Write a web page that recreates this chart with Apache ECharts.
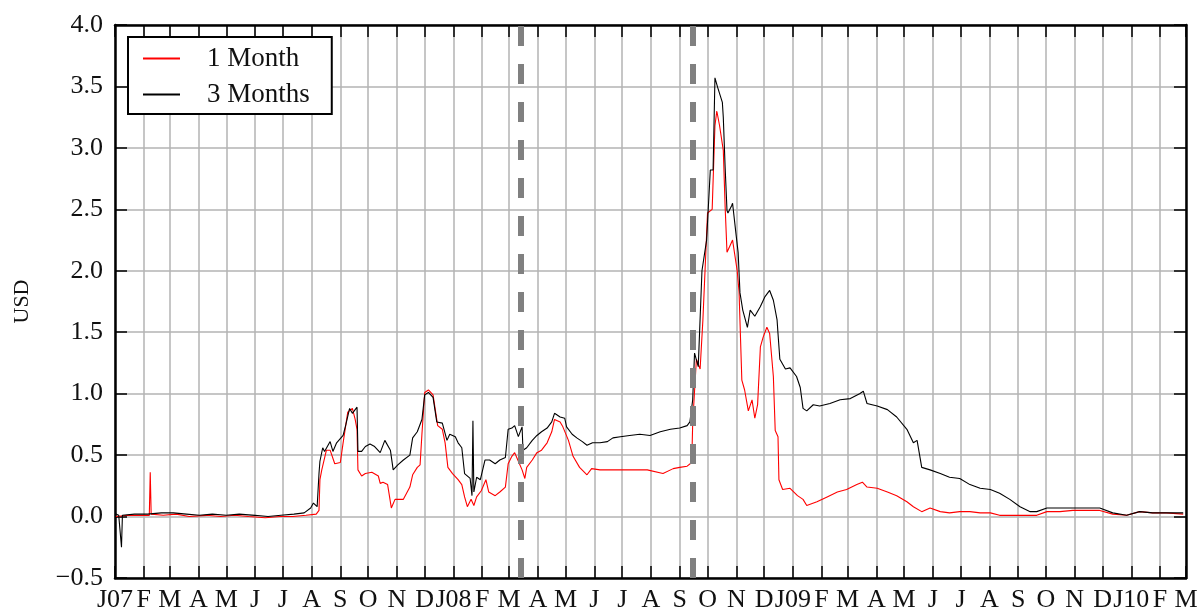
<!DOCTYPE html>
<html>
<head>
<meta charset="utf-8">
<script src="https://cdn.jsdelivr.net/npm/echarts@6/dist/echarts.min.js"></script>
<style>
html,body{margin:0;padding:0;background:#fff;}
#chart{width:1202px;height:614px;}
</style>
</head>
<body>
<div id="chart"></div>
<script>
// ---- data ----
const monthLetters = ['J','F','M','A','M','J','J','A','S','O','N','D'];
const yTicks = [-0.5, 0.0, 0.5, 1.0, 1.5, 2.0, 2.5, 3.0, 3.5, 4.0];
const eventDates = ['2008-03-14', '2008-09-15'];
const seriesNames = ['1 Month', '3 Months'];

const oneMonth = [
 ['2007-01-02',0.00],['2007-01-15',0.01],['2007-02-07',0.01],['2007-02-08',0.36],['2007-02-09',0.02],
 ['2007-02-22',0.01],['2007-03-08',0.02],['2007-03-22',0.00],['2007-04-10',0.01],['2007-04-25',0.00],
 ['2007-05-10',0.01],['2007-05-25',0.00],['2007-06-12',-0.01],['2007-06-28',0.00],['2007-07-12',0.00],
 ['2007-07-26',0.01],['2007-08-06',0.02],['2007-08-09',0.05],['2007-08-10',0.30],['2007-08-12',0.38],
 ['2007-08-17',0.54],['2007-08-21',0.54],['2007-08-26',0.43],['2007-09-01',0.44],['2007-09-04',0.60],
 ['2007-09-09',0.85],['2007-09-14',0.88],['2007-09-17',0.79],['2007-09-19',0.71],['2007-09-20',0.38],
 ['2007-09-24',0.33],['2007-09-28',0.35],['2007-10-05',0.36],['2007-10-12',0.33],['2007-10-14',0.27],
 ['2007-10-17',0.28],['2007-10-22',0.26],['2007-10-26',0.07],['2007-10-30',0.14],['2007-11-08',0.14],
 ['2007-11-15',0.24],['2007-11-18',0.34],['2007-11-23',0.40],['2007-11-26',0.42],['2007-11-28',0.67],
 ['2007-12-01',1.01],['2007-12-05',1.03],['2007-12-10',0.99],['2007-12-15',0.74],['2007-12-20',0.71],
 ['2007-12-23',0.60],['2007-12-26',0.40],['2007-12-31',0.35],['2008-01-06',0.30],['2008-01-10',0.26],
 ['2008-01-13',0.16],['2008-01-16',0.08],['2008-01-20',0.14],['2008-01-23',0.09],['2008-01-26',0.16],
 ['2008-01-31',0.21],['2008-02-05',0.30],['2008-02-08',0.20],['2008-02-15',0.17],['2008-02-20',0.20],
 ['2008-02-26',0.24],['2008-02-29',0.43],['2008-03-04',0.49],['2008-03-07',0.52],['2008-03-11',0.45],
 ['2008-03-15',0.38],['2008-03-18',0.31],['2008-03-20',0.40],['2008-03-26',0.46],['2008-03-31',0.52],
 ['2008-04-05',0.54],['2008-04-11',0.60],['2008-04-16',0.69],['2008-04-19',0.79],['2008-04-25',0.77],
 ['2008-04-28',0.73],['2008-05-04',0.62],['2008-05-09',0.49],['2008-05-16',0.40],['2008-05-24',0.34],
 ['2008-05-29',0.39],['2008-06-07',0.38],['2008-06-21',0.38],['2008-07-09',0.38],['2008-07-28',0.38],
 ['2008-08-14',0.35],['2008-08-25',0.39],['2008-09-01',0.40],['2008-09-09',0.41],['2008-09-14',0.44],
 ['2008-09-15',0.76],['2008-09-19',1.28],['2008-09-23',1.20],['2008-09-26',1.60],['2008-10-01',2.47],
 ['2008-10-06',2.50],['2008-10-09',3.18],['2008-10-11',3.30],['2008-10-14',3.18],['2008-10-18',2.98],
 ['2008-10-20',2.52],['2008-10-22',2.15],['2008-10-25',2.20],['2008-10-28',2.25],['2008-11-02',2.00],
 ['2008-11-04',1.83],['2008-11-07',1.11],['2008-11-10',1.03],['2008-11-14',0.86],['2008-11-18',0.95],
 ['2008-11-21',0.80],['2008-11-24',0.91],['2008-11-27',1.38],['2008-11-30',1.46],['2008-12-04',1.54],
 ['2008-12-07',1.49],['2008-12-11',1.14],['2008-12-13',0.70],['2008-12-16',0.65],['2008-12-17',0.30],
 ['2008-12-21',0.22],['2008-12-29',0.23],['2009-01-06',0.17],['2009-01-12',0.14],['2009-01-16',0.09],
 ['2009-01-27',0.12],['2009-02-07',0.16],['2009-02-18',0.20],['2009-02-28',0.22],['2009-03-11',0.26],
 ['2009-03-17',0.28],['2009-03-22',0.24],['2009-04-02',0.23],['2009-04-13',0.20],['2009-04-23',0.17],
 ['2009-05-04',0.12],['2009-05-11',0.08],['2009-05-20',0.04],['2009-05-29',0.07],['2009-06-09',0.04],
 ['2009-06-19',0.03],['2009-06-30',0.04],['2009-07-11',0.04],['2009-07-22',0.03],['2009-08-02',0.03],
 ['2009-08-12',0.01],['2009-08-23',0.01],['2009-09-03',0.01],['2009-09-14',0.01],['2009-09-21',0.01],
 ['2009-10-02',0.04],['2009-10-16',0.04],['2009-10-30',0.05],['2009-11-14',0.05],['2009-11-28',0.05],
 ['2009-12-12',0.02],['2009-12-27',0.01],['2010-01-10',0.04],['2010-01-24',0.03],['2010-02-08',0.03],
 ['2010-02-26',0.02]
];

const threeMonths = [
 ['2007-01-02',0.02],['2007-01-05',0.01],['2007-01-08',-0.25],['2007-01-09',0.01],['2007-01-22',0.02],
 ['2007-02-05',0.02],['2007-02-20',0.03],['2007-03-05',0.03],['2007-03-19',0.02],['2007-04-02',0.01],
 ['2007-04-16',0.02],['2007-05-01',0.01],['2007-05-15',0.02],['2007-06-01',0.01],['2007-06-15',0.00],
 ['2007-06-29',0.01],['2007-07-13',0.02],['2007-07-24',0.03],['2007-07-31',0.07],['2007-08-03',0.11],
 ['2007-08-07',0.08],['2007-08-09',0.35],['2007-08-10',0.45],['2007-08-13',0.56],['2007-08-15',0.53],
 ['2007-08-21',0.61],['2007-08-24',0.53],['2007-08-28',0.60],['2007-09-04',0.66],['2007-09-07',0.75],
 ['2007-09-11',0.88],['2007-09-14',0.84],['2007-09-19',0.89],['2007-09-20',0.53],['2007-09-24',0.53],
 ['2007-09-28',0.57],['2007-10-03',0.59],['2007-10-08',0.57],['2007-10-14',0.52],['2007-10-19',0.62],
 ['2007-10-25',0.54],['2007-10-28',0.38],['2007-11-02',0.42],['2007-11-08',0.46],['2007-11-15',0.50],
 ['2007-11-18',0.64],['2007-11-23',0.69],['2007-11-28',0.79],['2007-12-01',0.99],['2007-12-05',1.01],
 ['2007-12-10',0.97],['2007-12-14',0.77],['2007-12-20',0.76],['2007-12-25',0.62],['2007-12-28',0.67],
 ['2008-01-03',0.65],['2008-01-06',0.60],['2008-01-10',0.56],['2008-01-13',0.35],['2008-01-19',0.31],
 ['2008-01-21',0.17],['2008-01-22',0.78],['2008-01-23',0.20],['2008-01-26',0.32],['2008-01-30',0.30],
 ['2008-02-04',0.46],['2008-02-09',0.46],['2008-02-15',0.43],['2008-02-20',0.46],['2008-02-26',0.48],
 ['2008-02-29',0.71],['2008-03-04',0.72],['2008-03-07',0.74],['2008-03-11',0.65],['2008-03-15',0.73],
 ['2008-03-16',0.54],['2008-03-20',0.56],['2008-03-26',0.62],['2008-03-31',0.66],['2008-04-05',0.69],
 ['2008-04-11',0.72],['2008-04-16',0.77],['2008-04-19',0.84],['2008-04-25',0.81],['2008-04-30',0.80],
 ['2008-05-02',0.73],['2008-05-08',0.67],['2008-05-13',0.64],['2008-05-19',0.61],['2008-05-24',0.58],
 ['2008-05-30',0.60],['2008-06-07',0.60],['2008-06-15',0.61],['2008-06-21',0.64],['2008-06-29',0.65],
 ['2008-07-09',0.66],['2008-07-20',0.67],['2008-07-31',0.66],['2008-08-11',0.69],['2008-08-22',0.71],
 ['2008-09-01',0.72],['2008-09-09',0.74],['2008-09-12',0.77],['2008-09-15',0.95],['2008-09-17',1.33],
 ['2008-09-21',1.22],['2008-09-25',2.00],['2008-09-30',2.25],['2008-10-04',2.82],['2008-10-07',2.82],
 ['2008-10-09',3.57],['2008-10-12',3.49],['2008-10-17',3.37],['2008-10-18',3.25],['2008-10-20',2.84],
 ['2008-10-22',2.49],['2008-10-23',2.47],['2008-10-27',2.53],['2008-10-28',2.55],['2008-11-01',2.28],
 ['2008-11-03',2.15],['2008-11-05',1.82],['2008-11-08',1.68],['2008-11-13',1.54],['2008-11-16',1.68],
 ['2008-11-21',1.63],['2008-11-27',1.71],['2008-12-02',1.79],['2008-12-07',1.84],['2008-12-11',1.76],
 ['2008-12-15',1.60],['2008-12-16',1.49],['2008-12-18',1.28],['2008-12-24',1.20],['2008-12-29',1.21],
 ['2009-01-05',1.14],['2009-01-09',1.05],['2009-01-12',0.88],['2009-01-16',0.86],['2009-01-23',0.91],
 ['2009-01-30',0.90],['2009-02-10',0.92],['2009-02-21',0.95],['2009-03-04',0.96],['2009-03-14',1.00],
 ['2009-03-18',1.02],['2009-03-22',0.92],['2009-04-02',0.90],['2009-04-13',0.87],['2009-04-23',0.81],
 ['2009-05-04',0.71],['2009-05-11',0.60],['2009-05-15',0.62],['2009-05-20',0.40],['2009-05-29',0.38],
 ['2009-06-09',0.35],['2009-06-19',0.32],['2009-06-30',0.31],['2009-07-11',0.26],['2009-07-22',0.23],
 ['2009-08-02',0.22],['2009-08-12',0.19],['2009-08-23',0.14],['2009-09-03',0.08],['2009-09-14',0.04],
 ['2009-09-21',0.04],['2009-10-02',0.07],['2009-10-16',0.07],['2009-10-30',0.07],['2009-11-14',0.07],
 ['2009-11-28',0.07],['2009-12-12',0.03],['2009-12-27',0.01],['2010-01-10',0.04],['2010-01-24',0.03],
 ['2010-02-08',0.03],['2010-02-26',0.03]
];

// ---- daily category axis from 2007-01-01 to 2010-03-01 ----
function fmt(d){
  const m = d.getUTCMonth()+1, day = d.getUTCDate();
  return d.getUTCFullYear()+'-'+(m<10?'0':'')+m+'-'+(day<10?'0':'')+day;
}
const categories = [];
for (let t = Date.UTC(2007,0,1); t <= Date.UTC(2010,2,1); t += 86400000) {
  categories.push(fmt(new Date(t)));
}
const isMonthStart = (i, v) => categories[i].slice(8) === '01';
function monthLabel(v){
  const m = parseInt(v.slice(5,7),10) - 1;
  return m === 0 ? 'J' + v.slice(2,4) : monthLetters[m];
}

const FONT = 'Liberation Serif';
const gridLine = { show: true, lineStyle: { color: '#b3b3b3', width: 1.5 } };
const boxLine = { show: true, onZero: false, lineStyle: { color: '#000', width: 2.5 } };
const tickStyle = { color: '#000', width: 1.5 };

const chart = echarts.init(document.getElementById('chart'), null, { renderer: 'canvas' });
chart.setOption({
  animation: false,
  backgroundColor: '#fff',
  grid: { left: 115, right: 16, top: 25, bottom: 36, containLabel: false, outerBoundsMode: 'none' },
  legend: {
    data: seriesNames,
    orient: 'vertical',
    left: 128, top: 37,
    padding: [8, 22, 6, 15],
    icon: 'rect',
    itemWidth: 37, itemHeight: 1.8, itemGap: 9,
    backgroundColor: '#fff',
    borderColor: '#000', borderWidth: 2, borderRadius: 0,
    textStyle: { fontFamily: FONT, fontSize: 27, lineHeight: 27, color: '#111', padding: [0, 0, 0, 22] }
  },
  xAxis: [
    {
      type: 'category', data: categories, boundaryGap: false, position: 'bottom',
      axisLine: boxLine,
      axisTick: { show: true, inside: true, length: 12, interval: isMonthStart, lineStyle: tickStyle },
      axisLabel: { show: true, interval: isMonthStart, formatter: monthLabel, margin: 9,
                   fontFamily: FONT, fontSize: 26, color: '#111' },
      splitLine: Object.assign({ interval: isMonthStart }, gridLine)
    },
    {
      type: 'category', data: categories, boundaryGap: false, position: 'top',
      axisLine: boxLine,
      axisTick: { show: true, inside: true, length: 12, interval: isMonthStart, lineStyle: tickStyle },
      axisLabel: { show: false },
      splitLine: { show: false }
    }
  ],
  yAxis: [
    {
      type: 'value', min: yTicks[0], max: yTicks[yTicks.length-1], interval: 0.5, position: 'left',
      name: 'USD', nameLocation: 'middle', nameGap: 82, nameRotate: 90,
      nameTextStyle: { fontFamily: FONT, fontSize: 22, color: '#111' },
      axisLine: boxLine,
      axisTick: { show: true, inside: true, length: 12, lineStyle: tickStyle },
      axisLabel: { margin: 12, fontFamily: FONT, fontSize: 26, color: '#111',
                   formatter: v => (v < 0 ? '\u2212' + Math.abs(v).toFixed(1) : v.toFixed(1)) },
      splitLine: gridLine
    },
    {
      type: 'value', min: yTicks[0], max: yTicks[yTicks.length-1], interval: 0.5, position: 'right',
      axisLine: boxLine,
      axisTick: { show: true, inside: true, length: 12, lineStyle: tickStyle },
      axisLabel: { show: false },
      splitLine: { show: false }
    }
  ],
  series: [
    {
      name: seriesNames[0], type: 'line', data: oneMonth, xAxisIndex: 0, yAxisIndex: 0,
      symbol: 'none', connectNulls: true,
      lineStyle: { color: '#ff0000', width: 1.1 }, itemStyle: { color: '#ff0000' }, z: 3
    },
    {
      name: seriesNames[1], type: 'line', data: threeMonths, xAxisIndex: 0, yAxisIndex: 0,
      symbol: 'none', connectNulls: true,
      lineStyle: { color: '#000000', width: 1.1 }, itemStyle: { color: '#000000' }, z: 4,
      markLine: {
        silent: true, symbol: ['none', 'none'], label: { show: false },
        lineStyle: { color: '#808080', width: 6, type: [20, 18] },
        data: eventDates.map(d => ({ xAxis: d }))
      }
    }
  ]
});
</script>
</body>
</html>
